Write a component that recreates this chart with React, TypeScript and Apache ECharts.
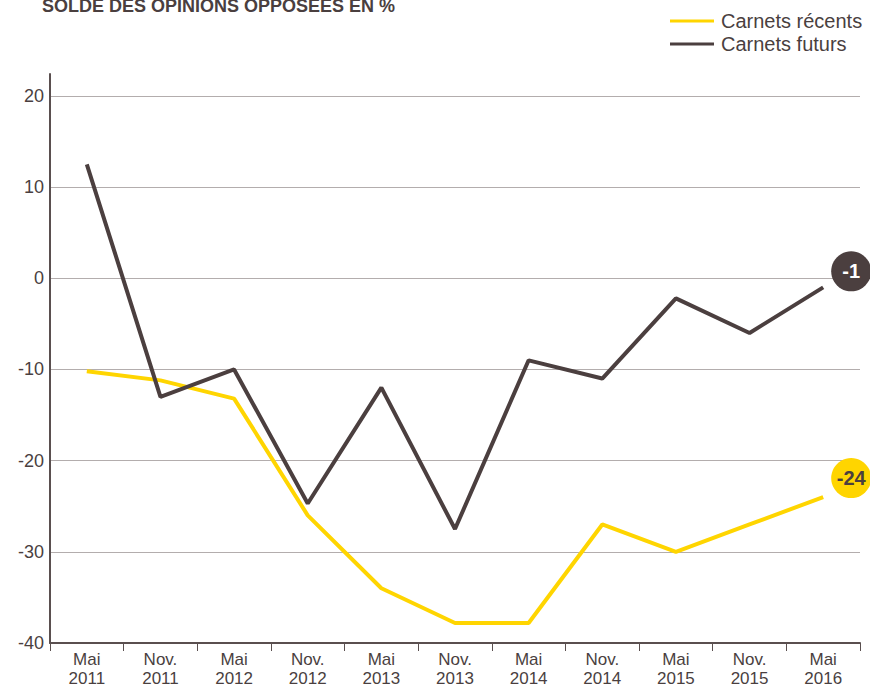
import React, { useEffect, useRef } from "react";
import * as echarts from "echarts";

const categories = [
  "Mai\n2011", "Nov.\n2011", "Mai\n2012", "Nov.\n2012", "Mai\n2013", "Nov.\n2013",
  "Mai\n2014", "Nov.\n2014", "Mai\n2015", "Nov.\n2015", "Mai\n2016",
];
const carnetsRecents = [-10.2, -11.2, -13.2, -26, -34, -37.8, -37.8, -27, -30, -27, -24];
const carnetsFuturs = [12.5, -13, -10, -24.7, -12, -27.5, -9, -11, -2.2, -6, -1];
const yTicks = [-40, -30, -20, -10, 0, 10, 20];

const YELLOW = "#FFD500";
const DARK = "#4B3F3F";
const TEXT = "#4A3F3F";
const FONT = "'Liberation Sans', Arial, sans-serif";

export default function App() {
  const ref = useRef<HTMLDivElement>(null);
  useEffect(() => {
    if (!ref.current) return;
    const chart = echarts.init(ref.current, null, { renderer: "svg" });
    const last = categories[categories.length - 1];
    chart.setOption({
      animation: false,
      textStyle: { fontFamily: FONT },
      title: {
        text: "SOLDE DES OPINIONS OPPOSÉES EN %",
        left: 37,
        top: -8,
        textStyle: { fontSize: 18, fontWeight: "bold", color: TEXT, fontFamily: FONT },
      },
      legend: {
        orient: "vertical",
        left: 665,
        top: 6,
        itemWidth: 44,
        itemHeight: 3,
        itemGap: 3,
        icon: "rect",
        textStyle: { fontSize: 20, color: TEXT, fontFamily: FONT, padding: [0, 0, 0, 2] },
        data: ["Carnets récents", "Carnets futurs"],
      },
      grid: { left: 50, right: 10, top: 74, bottom: 45, containLabel: false, outerBoundsMode: "none" },
      xAxis: {
        type: "category",
        data: categories,
        boundaryGap: true,
        axisLine: { onZero: false, lineStyle: { color: "#5A4F4F", width: 2 } },
        axisTick: { show: true, length: 8, lineStyle: { color: "#5A4F4F", width: 1 } },
        axisLabel: { color: TEXT, fontSize: 17, lineHeight: 19, margin: 7, interval: 0, fontFamily: FONT },
        splitLine: { show: false },
      },
      yAxis: {
        type: "value",
        min: -40,
        max: 22.4,
        interval: 10,
        axisLine: { show: true, onZero: false, lineStyle: { color: "#5A4F4F", width: 2 } },
        axisTick: { show: false },
        axisLabel: {
          color: TEXT,
          fontSize: 18,
          margin: 6,
          showMaxLabel: false,
          fontFamily: FONT,
          formatter: (v: number) => (yTicks.includes(Math.round(v * 100) / 100) ? String(v) : ""),
        },
        splitLine: { show: true, showMaxLine: false, lineStyle: { color: "#B3ADAD", width: 1 } },
      },
      series: [
        {
          name: "Carnets récents",
          type: "line",
          data: carnetsRecents,
          symbol: "none",
          color: YELLOW,
          lineStyle: { width: 4, color: YELLOW },
          z: 2,
          markPoint: {
            symbol: "circle",
            symbolSize: 40,
            symbolOffset: [28, -19],
            itemStyle: { color: YELLOW },
            label: { show: true, color: DARK, fontSize: 20, fontWeight: "bold", fontFamily: FONT, formatter: "{c}" },
            data: [{ coord: [last, carnetsRecents[carnetsRecents.length - 1]], value: carnetsRecents[carnetsRecents.length - 1] }],
          },
        },
        {
          name: "Carnets futurs",
          type: "line",
          data: carnetsFuturs,
          symbol: "none",
          color: DARK,
          lineStyle: { width: 4, color: DARK },
          z: 3,
          markPoint: {
            symbol: "circle",
            symbolSize: 40,
            symbolOffset: [28, -16],
            itemStyle: { color: DARK },
            label: { show: true, color: "#FFFFFF", fontSize: 20, fontWeight: "bold", fontFamily: FONT, formatter: "{c}" },
            data: [{ coord: [last, carnetsFuturs[carnetsFuturs.length - 1]], value: carnetsFuturs[carnetsFuturs.length - 1] }],
          },
        },
      ],
    });
    return () => chart.dispose();
  }, []);
  return <div ref={ref} style={{ width: 870, height: 688, position: "absolute", left: 0, top: 0 }} />;
}
